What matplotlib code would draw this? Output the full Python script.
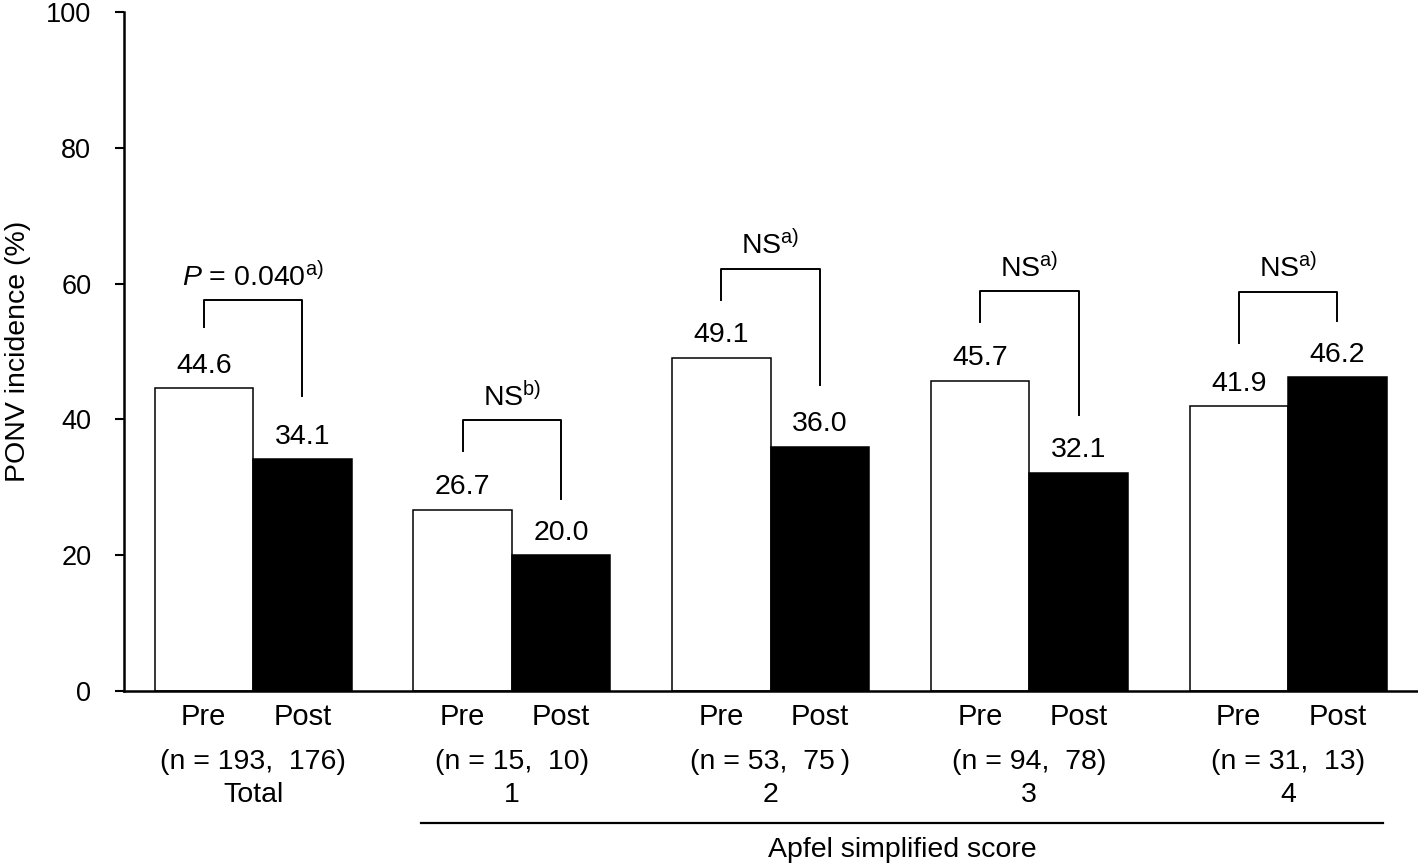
import numpy as np
import matplotlib
matplotlib.use('Agg')
import matplotlib.pyplot as plt

plt.rcParams['font.family'] = ['Liberation Sans', 'Noto Sans CJK JP', 'DejaVu Sans']
plt.rcParams['mathtext.fontset'] = 'custom'
plt.rcParams['mathtext.rm'] = 'Liberation Sans'
plt.rcParams['mathtext.it'] = 'Liberation Sans:italic'

# Data
groups = ['Total', '1', '2', '3', '4']
pre_vals = [44.6, 26.7, 49.1, 45.7, 41.9]
post_vals = [34.1, 20.0, 36.0, 32.1, 46.2]
n_labels = ['(n = 193,  176)', '(n = 15,  10)', '(n = 53,  75\u2009)', '(n = 94,  78)', '(n = 31,  13)']
sig_labels = [r'$\it{P}$ = 0.040$^{\rm a)}$', r'NS$^{\rm b)}$', r'NS$^{\rm a)}$',
              r'NS$^{\rm a)}$', r'NS$^{\rm a)}$']
# bracket heights (top, pre leg end, post leg end)
br_top = [57.6, 39.9, 62.2, 58.9, 58.8]
br_left = [53.6, 35.3, 57.6, 54.3, 51.3]
br_right = [43.4, 28.3, 45.1, 40.6, 54.5]

fs_tick = 19.5
fs_val = 20.5
fs_lab = 21

gx = np.arange(len(groups)) * 2.627
x_pre = gx - 0.5
x_post = gx + 0.5

fig = plt.figure(figsize=(14.18, 8.66), dpi=100)
ax = fig.add_axes([124 / 1418, 175 / 866, 1294 / 1418, 679 / 866])

ax.bar(x_pre, pre_vals, width=1.0, facecolor='white', edgecolor='black', linewidth=1.1, zorder=2)
ax.bar(x_post, post_vals, width=1.0, facecolor='black', edgecolor='black', linewidth=1.1, zorder=2)

for i in range(len(groups)):
    ax.text(x_pre[i], pre_vals[i] + 2.3, f'{pre_vals[i]:.1f}', ha='center', va='baseline', fontsize=fs_val)
    ax.text(x_post[i], post_vals[i] + 2.3, f'{post_vals[i]:.1f}', ha='center', va='baseline', fontsize=fs_val)
    # significance bracket
    ax.plot([x_pre[i], x_pre[i], x_post[i], x_post[i]],
            [br_left[i], br_top[i], br_top[i], br_right[i]],
            color='black', linewidth=1.4, zorder=3)
    ax.text(gx[i], br_top[i] + 2.1, sig_labels[i], ha='center', va='baseline', fontsize=fs_val)
    # labels under the axis
    ax.text(x_pre[i], -3.8, 'Pre', ha='center', va='center', fontsize=fs_lab, clip_on=False)
    ax.text(x_post[i], -3.8, 'Post', ha='center', va='center', fontsize=fs_lab, clip_on=False)
    ax.text(gx[i], -10.5, n_labels[i], ha='center', va='center', fontsize=fs_val, clip_on=False)
    ax.text(gx[i], -15.3, groups[i], ha='center', va='center', fontsize=fs_val, clip_on=False)

# Apfel score underline
ax.plot([gx[1] - 0.92, gx[4] + 0.96], [-19.4, -19.4], color='black', linewidth=1.6, clip_on=False)
ax.text((gx[1] - 0.92 + gx[4] + 0.96) / 2, -23.4, 'Apfel simplified score',
        ha='center', va='center', fontsize=fs_val, clip_on=False)

ax.set_xlim((124 - 253) / 98.5, (1418 - 253) / 98.5)
ax.set_ylim(0, 100)
ax.set_yticks([0, 20, 40, 60, 80, 100])
ax.set_xticks([])
ax.tick_params(axis='y', direction='out', length=6.5, width=1.5, pad=17, labelsize=fs_tick)
ax.set_ylabel('PONV incidence (%)', fontsize=fs_val)
ax.yaxis.set_label_coords(-0.072, 0.5)

for s in ['top', 'right']:
    ax.spines[s].set_visible(False)
for s in ['left', 'bottom']:
    ax.spines[s].set_linewidth(1.8)
    ax.spines[s].set_color('black')

fig.savefig('out.png', dpi=100)
